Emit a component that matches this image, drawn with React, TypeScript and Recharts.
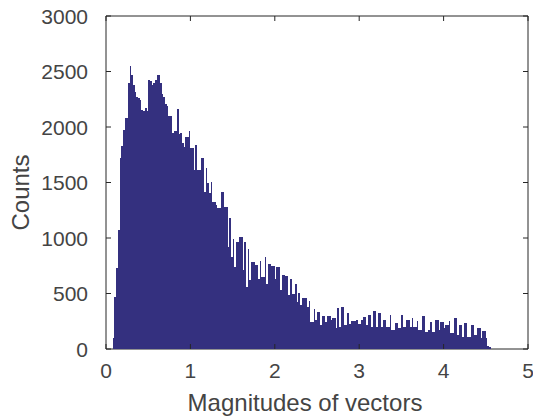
import { BarChart, Bar, XAxis, YAxis, ReferenceArea } from 'recharts';

// histogram bins: left edge of the first bin and common width
const binStart = 0.08;
const binWidth = 0.02;

// counts per bin, left to right
const counts = [
  100, 470, 730, 1070, 1720, 1830, 1970, 2080, 2080, 2400,
  2550, 2470, 2380, 2315, 2270, 2260, 2240, 2150, 2140, 2170,
  2140, 2420, 2410, 2380, 2400, 2420, 2470, 2470, 2400, 2300,
  2270, 2210, 2190, 2100, 2100, 1950, 1960, 1960, 2160, 1940,
  1945, 1855, 1820, 1910, 1910, 1965, 1810, 1810, 1615, 1835,
  1615, 1615, 1725, 1725, 1415, 1630, 1495, 1405, 1505, 1320,
  1320, 1300, 1270, 1270, 1415, 1415, 1280, 1280, 920, 1180,
  830, 990, 740, 960, 960, 1005, 1005, 710, 960, 560,
  900, 620, 780, 780, 755, 755, 635, 795, 650, 650,
  830, 590, 765, 765, 750, 750, 635, 740, 740, 530,
  665, 665, 660, 660, 485, 630, 500, 500, 585, 425,
  505, 395, 460, 460, 455, 380, 430, 245, 245, 360,
  260, 330, 330, 215, 295, 295, 240, 295, 295, 260,
  280, 280, 185, 365, 195, 375, 375, 215, 215, 320,
  225, 255, 255, 255, 260, 225, 225, 265, 290, 290,
  215, 305, 305, 200, 345, 340, 200, 320, 320, 200,
  265, 265, 195, 195, 310, 175, 175, 230, 230, 190,
  190, 310, 195, 195, 265, 265, 195, 280, 195, 195,
  255, 175, 175, 295, 295, 155, 155, 175, 245, 155,
  155, 265, 260, 170, 240, 240, 190, 215, 215, 255,
  140, 140, 280, 280, 125, 220, 220, 110, 230, 230,
  110, 110, 215, 215, 125, 125, 185, 185, 95, 160,
  160, 95, 25, 15,
];

const xTicks = [0, 1, 2, 3, 4, 5];
const yTicks = [0, 500, 1000, 1500, 2000, 2500, 3000];

const data = counts.map((count, i) => ({
  x: binStart + binWidth * (i + 0.5),
  count,
}));

const ink = '#262626';
const textInk = '#444444';
const barColor = '#34307f';
const font = '"Liberation Sans", Arial, Helvetica, sans-serif';
const tickFont = 21;
const tickLen = 5; // ticks point into the plot, matlab style
const yGap = 18;
const xGap = 14;

function LeftTick(props: any) {
  const x = Number(props.x);
  const y = Number(props.y);
  return (
    <g>
      <line x1={x + yGap} x2={x + yGap + tickLen} y1={y} y2={y} stroke={ink} strokeWidth={1} />
      <text x={x} y={y} dy="0.36em" textAnchor="end" fill={textInk} fontSize={tickFont} fontFamily={font}>
        {props.payload.value}
      </text>
    </g>
  );
}

function BottomTick(props: any) {
  const x = Number(props.x);
  const y = Number(props.y);
  return (
    <g>
      <line x1={x} x2={x} y1={y - xGap} y2={y - xGap - tickLen} stroke={ink} strokeWidth={1} />
      <text x={x} y={y} dy="0.72em" textAnchor="middle" fill={textInk} fontSize={tickFont} fontFamily={font}>
        {props.payload.value}
      </text>
    </g>
  );
}

function TopTick(props: any) {
  const x = Number(props.x);
  const y = Number(props.y);
  return <line x1={x} x2={x} y1={y} y2={y + tickLen} stroke={ink} strokeWidth={1} />;
}

function RightTick(props: any) {
  const x = Number(props.x);
  const y = Number(props.y);
  return <line x1={x} x2={x - tickLen} y1={y} y2={y} stroke={ink} strokeWidth={1} />;
}

function XTitle({ viewBox }: any) {
  const { x, y, width } = viewBox;
  return (
    <text x={x + width / 2 - 12} y={y + 62} textAnchor="middle" fill={textInk} fontSize={24} fontFamily={font}>
      Magnitudes of vectors
    </text>
  );
}

function YTitle({ viewBox }: any) {
  const { y, height } = viewBox;
  const cx = 29;
  const cy = y + height / 2 + 10;
  return (
    <text x={cx} y={cy} transform={`rotate(-90, ${cx}, ${cy})`} textAnchor="middle" fill={textInk} fontSize={24} fontFamily={font}>
      Counts
    </text>
  );
}

export default function App() {
  return (
    <div style={{ position: 'absolute', left: 0, top: 0, background: '#fff' }}>
      <BarChart
        width={533}
        height={418}
        data={data}
        margin={{ top: 15, right: 4, bottom: 0, left: 0 }}
        barCategoryGap={0}
        barGap={0}
      >
        <XAxis
          dataKey="x"
          type="number"
          domain={[0, 5]}
          ticks={xTicks}
          interval={0}
          height={69}
          axisLine={false}
          tickLine={false}
          tickSize={0}
          tickMargin={xGap}
          tick={<BottomTick />}
          label={<XTitle />}
        />
        <XAxis
          xAxisId="top"
          dataKey="x"
          orientation="top"
          type="number"
          domain={[0, 5]}
          ticks={xTicks}
          interval={0}
          height={1}
          axisLine={false}
          tickLine={false}
          tickSize={0}
          tickMargin={0}
          tick={<TopTick />}
        />
        <YAxis
          type="number"
          domain={[0, 3000]}
          ticks={yTicks}
          interval={0}
          width={106}
          axisLine={false}
          tickLine={false}
          tickSize={0}
          tickMargin={yGap}
          tick={<LeftTick />}
          label={<YTitle />}
        />
        <YAxis
          yAxisId="right"
          dataKey="count"
          orientation="right"
          type="number"
          domain={[0, 3000]}
          ticks={yTicks}
          interval={0}
          width={1}
          axisLine={false}
          tickLine={false}
          tickSize={0}
          tickMargin={0}
          tick={<RightTick />}
        />
        <Bar
          dataKey="count"
          fill={barColor}
          barSize={1.687}
          shapeRendering="crispEdges"
          isAnimationActive={false}
        />
        <ReferenceArea x1={0} x2={5} y1={0} y2={3000} fill="none" stroke={ink} strokeWidth={1} ifOverflow="visible" />
      </BarChart>
    </div>
  );
}
